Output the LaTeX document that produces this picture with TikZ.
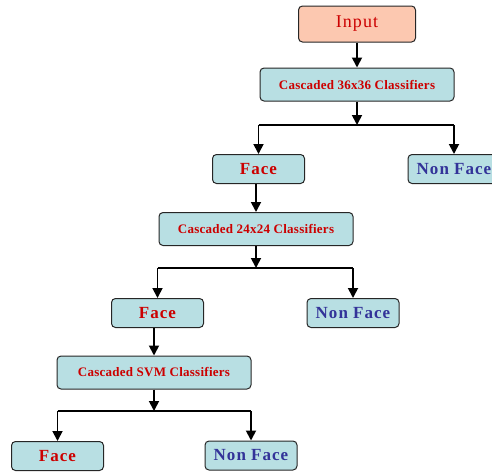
\documentclass[tikz,border=0pt]{standalone}
\usepackage{fontspec}
\setmainfont{Liberation Serif}
\newfontfamily\spacedserif[LetterSpace=6]{Liberation Serif}
\newfontfamily\classserif[LetterSpace=2]{Liberation Serif}
\usepackage{xcolor}
\usepackage{tikz}
\usetikzlibrary{arrows.meta,positioning}

\begin{document}
\begin{tikzpicture}[x=1pt,y=-1pt,
  box/.style={draw=black!85,line width=1pt,rounded corners=4pt,fill=boxcyan,inner sep=0pt},
  classbox/.style={box,minimum width=194pt,minimum height=33pt,font=\classserif\fontsize{13}{15}\selectfont\bfseries,text=facered},
  facebox/.style={box,minimum width=92pt,minimum height=29pt,font=\spacedserif\fontsize{17}{19}\selectfont\bfseries,text=facered},
  nonfacebox/.style={box,minimum width=92pt,minimum height=29pt,font=\spacedserif\fontsize{17}{19}\selectfont\bfseries,text=nonblue},
  arr/.style={-{Triangle[length=10pt,width=10pt]},line width=1.8pt},
  branch/.style={line width=1.1pt}]
% Define colours
\definecolor{boxcyan}{HTML}{B8DFE3}
\definecolor{inputfill}{HTML}{FCC8B0}
\definecolor{facered}{HTML}{CC0000}
\definecolor{nonblue}{HTML}{333399}

\useasboundingbox (0,0) rectangle (492,471);

% Input and first stage
\node[box,fill=inputfill,minimum width=117pt,minimum height=36pt,font=\spacedserif\fontsize{18}{20}\selectfont,text=facered] (input) at (357,24) {Input};
\node[classbox] (c36) at (357,84.5) {Cascaded 36x36 Classifiers};
\node[facebox] (face1) at (258.5,169) {Face};
\node[nonfacebox] (nonface1) at (454,169) {Non Face};

% Second stage
\node[classbox] (c24) at (256,229) {Cascaded 24x24 Classifiers};
\node[facebox] (face2) at (157.5,313) {Face};
\node[nonfacebox] (nonface2) at (353,313) {Non Face};

% SVM stage
\node[classbox] (svm) at (154,372.5) {Cascaded SVM Classifiers};
\node[facebox] (face3) at (57.5,456) {Face};
\node[nonfacebox] (nonface3) at (251,455.5) {Non Face};

% Junctions
\coordinate (j1) at (357,125);
\coordinate (j2) at (256,268);
\coordinate (j3) at (154,411);

% Connectors
\draw[arr] (input) -- (c36);
\draw[arr] (c36) -- (j1);
\draw[branch] (face1 |- j1) -- (nonface1 |- j1);
\draw[arr] (face1 |- j1) -- (face1);
\draw[arr] (nonface1 |- j1) -- (nonface1);

\draw[arr] (face1.south -| c24) -- (c24);
\draw[arr] (c24) -- (j2);
\draw[branch] (face2 |- j2) -- (nonface2 |- j2);
\draw[arr] (face2 |- j2) -- (face2);
\draw[arr] (nonface2 |- j2) -- (nonface2);

\draw[arr] (face2.south -| svm) -- (svm);
\draw[arr] (svm) -- (j3);
\draw[branch] (face3 |- j3) -- (nonface3 |- j3);
\draw[arr] (face3 |- j3) -- (face3);
\draw[arr] (nonface3 |- j3) -- (nonface3);
\end{tikzpicture}
\end{document}
